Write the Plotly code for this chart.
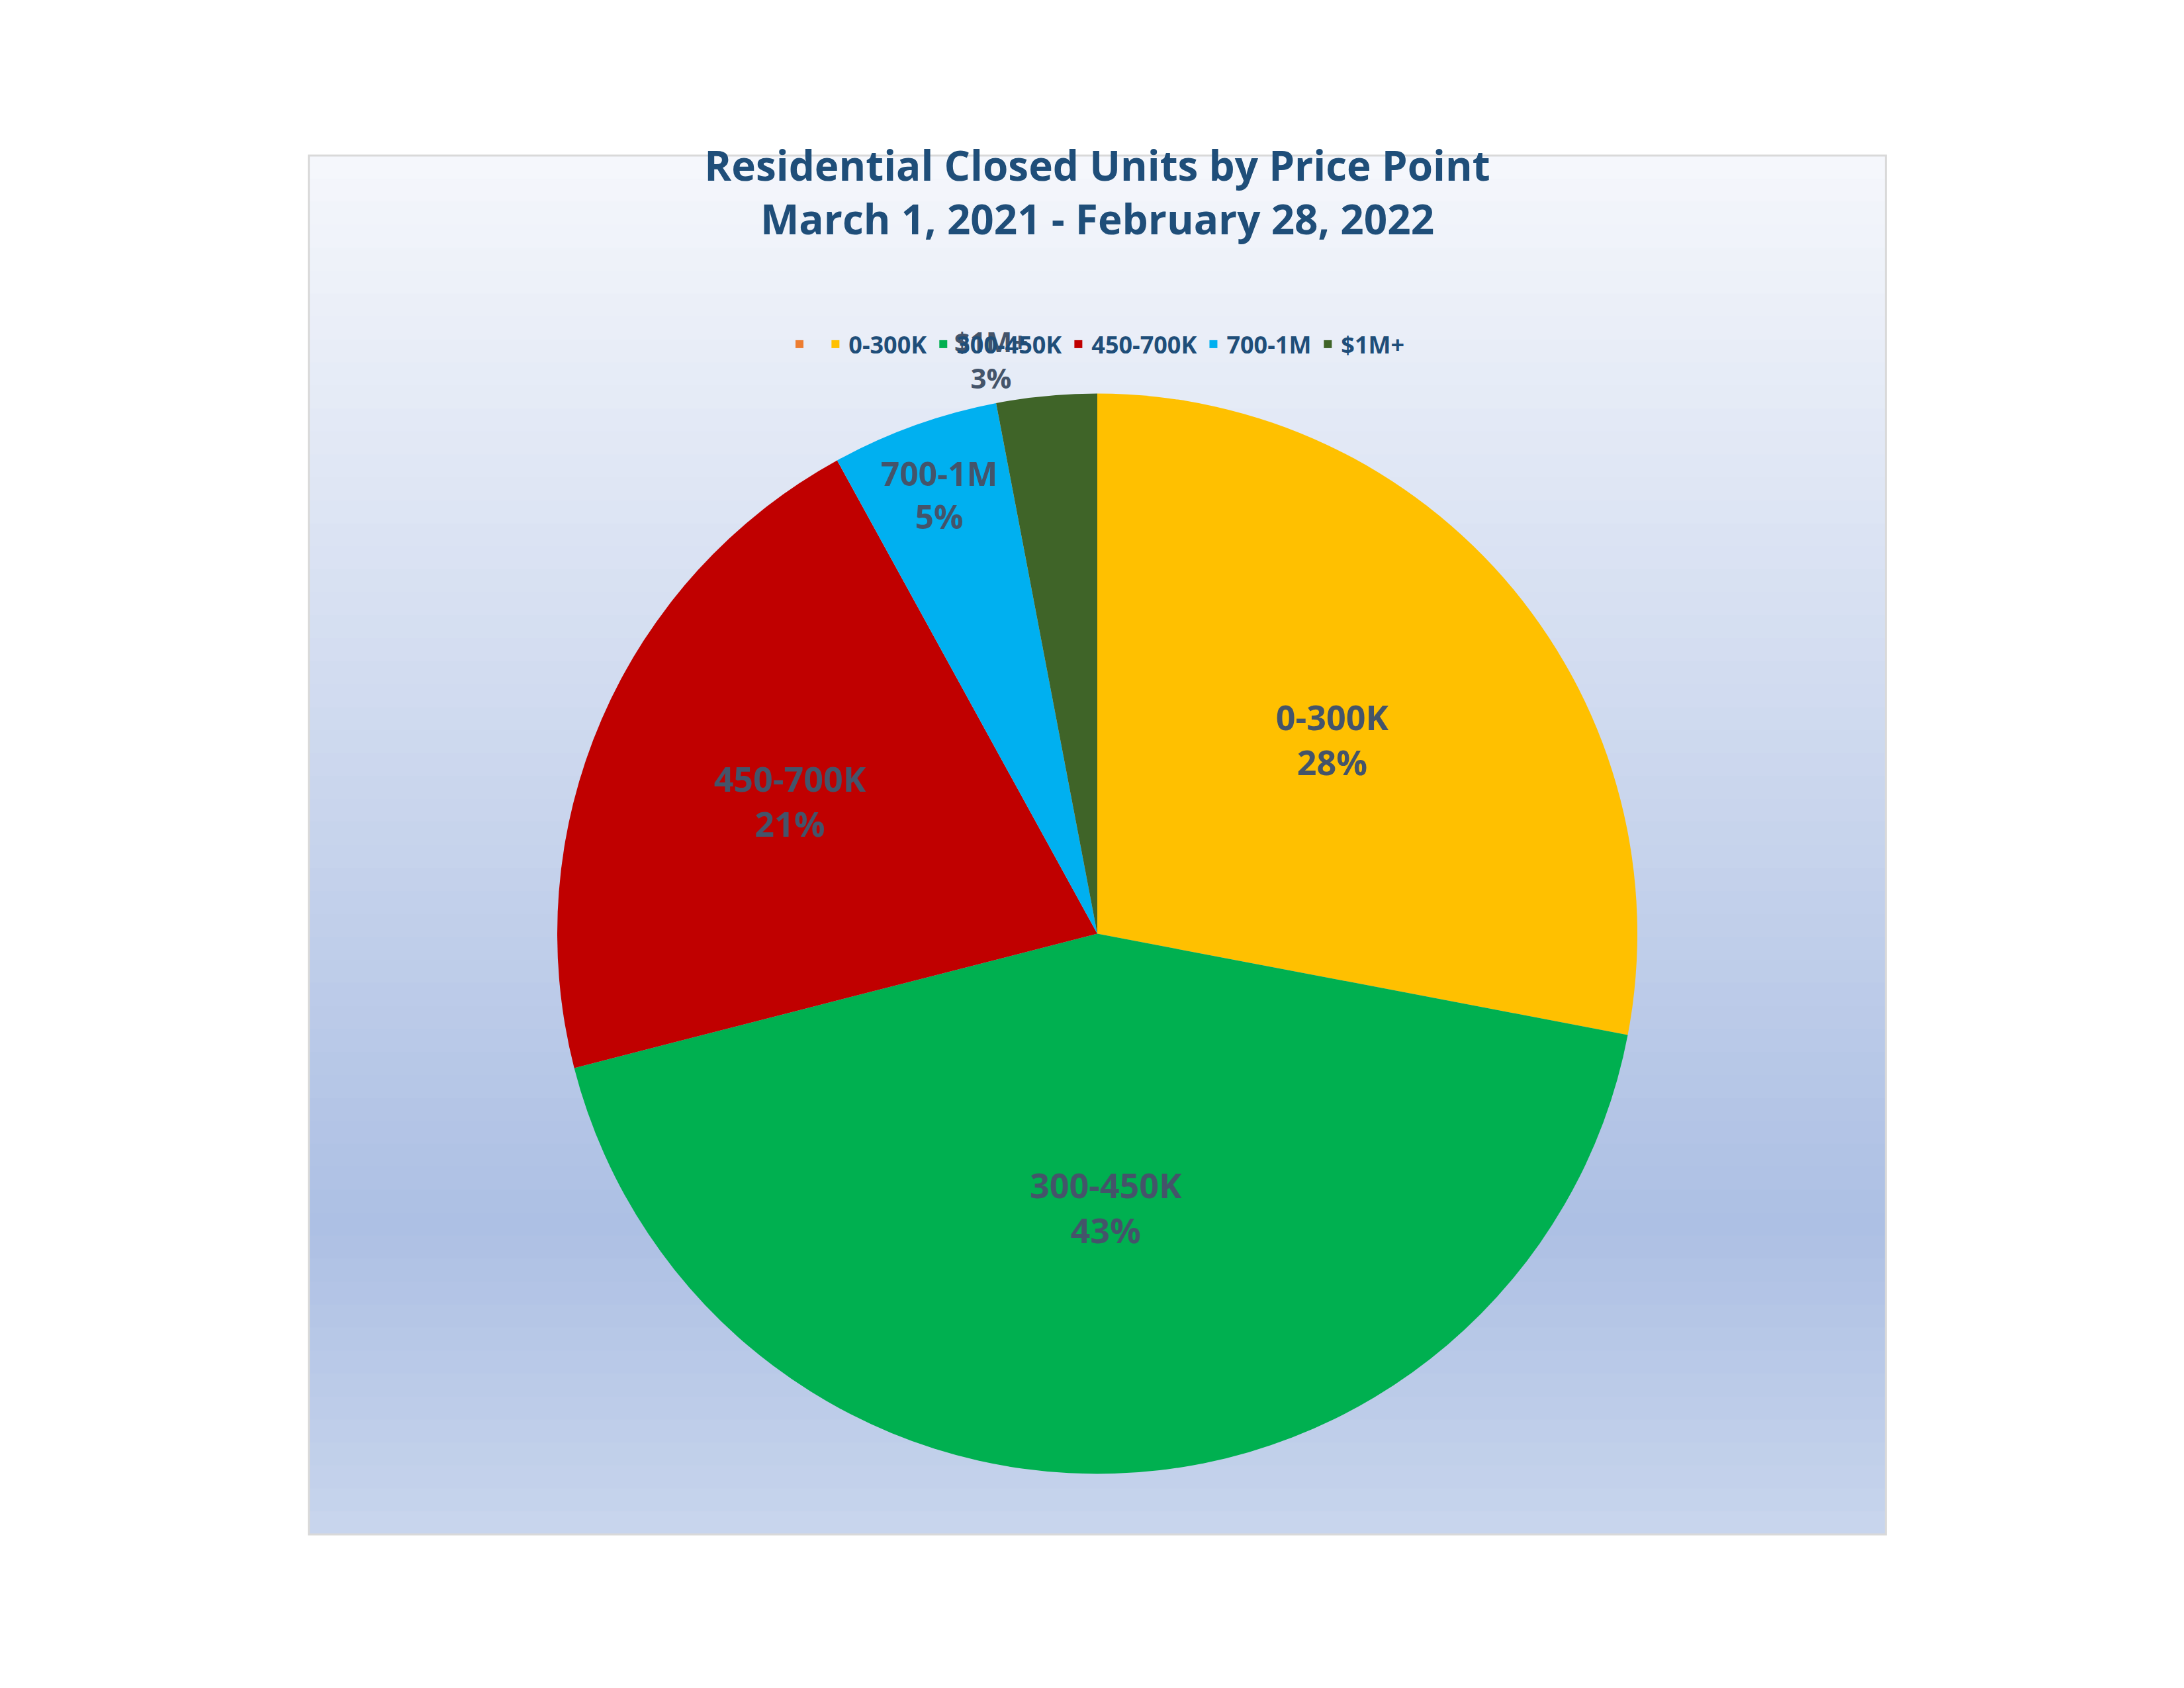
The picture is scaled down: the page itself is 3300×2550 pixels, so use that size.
import plotly.graph_objects as go

# --- Data ---
labels = [" ", "0-300K", "300-450K", "450-700K", "700-1M", "$1M+"]
values = [0, 28, 43, 21, 5, 3]
colors = ["#ED7D31", "#FFC000", "#00B050", "#C00000", "#00B0F0", "#3F6428"]

W, H = 3300, 2550
fig = go.Figure()

tmpl = "<b>%{label}<br>%{percent:.0%}</b>"
fig.add_trace(go.Pie(
    labels=labels, values=values, sort=False, direction="clockwise", rotation=0,
    marker=dict(colors=colors, line=dict(width=0)),
    texttemplate=["", tmpl, tmpl, tmpl, tmpl, tmpl],
    textposition=["none", "inside", "inside", "inside", "inside", "outside"],
    insidetextorientation="horizontal",
    textfont=dict(size=52, color="#44546A", family="Open Sans"),
    outsidetextfont=dict(size=42, color="#44546A", family="Open Sans"),
    domain=dict(x=[0.05, 0.95], y=[0.13, 0.77]),
    hoverinfo="label+percent",
))

# gradient background of the chart area (light at top, blue toward bottom)
x0, x1, y0, y1 = 213, 3087, 227, 2310
steps = 60
top, mid, bot = (245, 247, 252), (173, 192, 228), (200, 213, 237)
shapes = []
for i in range(steps):
    t = i / (steps - 1)
    if t < 0.78:
        u = t / 0.78
        c = [int(top[k] + (mid[k] - top[k]) * u) for k in range(3)]
    else:
        u = (t - 0.78) / 0.22
        c = [int(mid[k] + (bot[k] - mid[k]) * u) for k in range(3)]
    ya = y0 + (y1 - y0) * i / steps
    yb = y0 + (y1 - y0) * (i + 1) / steps + 1
    shapes.append(dict(type="rect", xref="paper", yref="paper", layer="below",
                       x0=x0 / W, x1=x1 / W, y0=1 - yb / H, y1=1 - ya / H,
                       fillcolor=f"rgb({c[0]},{c[1]},{c[2]})", line=dict(width=0)))
shapes.append(dict(type="rect", xref="paper", yref="paper", layer="below",
                   x0=x0 / W, x1=x1 / W, y0=1 - y1 / H, y1=1 - y0 / H,
                   line=dict(color="#D9D9D9", width=3)))

fig.update_layout(
    width=W, height=H, paper_bgcolor="white",
    margin=dict(l=0, r=0, t=0, b=0),
    shapes=shapes,
    title=dict(text="<b>Residential Closed Units by Price Point<br>March 1, 2021 - February 28, 2022</b>",
               x=0.5, y=1 - 265 / H, xanchor="center", yanchor="top",
               font=dict(size=62, color="#1F4E79", family="Open Sans")),
    legend=dict(orientation="h", x=0.5, xanchor="center", y=1 - 512 / H, yanchor="middle",
                font=dict(size=36, color="#1F4E79", family="Open Sans", weight="bold"),
                bgcolor="rgba(0,0,0,0)", traceorder="normal"),
    font=dict(family="Open Sans"),
)

fig.write_html("out.html")
